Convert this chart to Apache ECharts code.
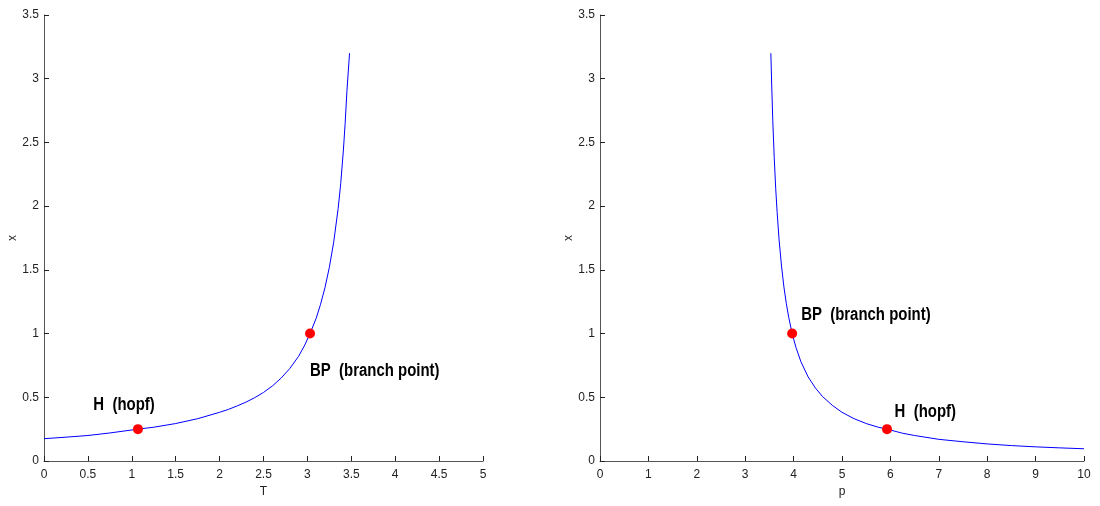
<!DOCTYPE html>
<html>
<head>
<meta charset="utf-8">
<script src="https://cdn.jsdelivr.net/npm/echarts@6/dist/echarts.min.js"></script>
<style>
  html, body { margin: 0; padding: 0; background: #fff; }
  #chart { width: 1100px; height: 506px; }
</style>
</head>
<body>
<div id="chart"></div>
<script>
// Equilibrium branch x versus T (left) and versus p (right)
const tTicks = [0, 0.5, 1, 1.5, 2, 2.5, 3, 3.5, 4, 4.5, 5];
const pTicks = [0, 1, 2, 3, 4, 5, 6, 7, 8, 9, 10];
const xTicks = [0, 0.5, 1, 1.5, 2, 2.5, 3, 3.5];

// branch traced over T
const branchT = [
  [0, 0.175], [0.25, 0.187], [0.5, 0.2], [0.75, 0.22], [1.07, 0.25],
  [1.25, 0.265], [1.5, 0.294], [1.75, 0.332], [2.0, 0.382], [2.1, 0.405],
  [2.2, 0.432], [2.3, 0.462], [2.4, 0.497], [2.5, 0.538], [2.6, 0.588],
  [2.7, 0.65], [2.8, 0.726], [2.9, 0.822], [2.97, 0.91], [3.03, 1.0],
  [3.1, 1.12], [3.15, 1.23], [3.2, 1.36], [3.25, 1.52], [3.3, 1.72],
  [3.35, 1.98], [3.38, 2.18], [3.41, 2.44], [3.43, 2.65], [3.45, 2.9],
  [3.48, 3.2]
];
// branch traced over p
const branchP = [
  [3.53, 3.2], [3.55, 2.92], [3.57, 2.67], [3.6, 2.38], [3.63, 2.14],
  [3.66, 1.95], [3.7, 1.735], [3.75, 1.53], [3.8, 1.366], [3.85, 1.235],
  [3.9, 1.126], [3.97, 1.0], [4.05, 0.89], [4.15, 0.78], [4.3, 0.66],
  [4.45, 0.573], [4.6, 0.505], [4.8, 0.437], [5.0, 0.382], [5.25, 0.332],
  [5.5, 0.294], [5.75, 0.265], [5.93, 0.25], [6.25, 0.218], [6.5, 0.2],
  [7.0, 0.17], [7.5, 0.151], [8.0, 0.134], [8.5, 0.121], [9.0, 0.111],
  [9.5, 0.103], [10.0, 0.096]
];

// special points: Hopf and branch point on each branch
const pointNames = ['H  (hopf)', 'BP  (branch point)'];
const pointsT = [[1.07, 0.25], [3.03, 1.0]];
const pointsP = [[5.93, 0.25], [3.97, 1.0]];

const labelFont = "'Liberation Sans', Arial, sans-serif";
const tickFont = { fontFamily: labelFont, fontSize: 12, color: '#222' };

function xAxisCfg(gridIndex, ticks, name) {
  return {
    type: 'value', gridIndex, name,
    nameLocation: 'middle', nameGap: 24,
    nameTextStyle: { fontFamily: labelFont, fontSize: 12, color: '#222' },
    min: ticks[0], max: ticks[ticks.length - 1], interval: ticks[1] - ticks[0],
    axisLine: { show: true, onZero: false, lineStyle: { color: '#555', width: 1 } },
    axisTick: { show: true, inside: true, length: 5, lineStyle: { color: '#222' } },
    axisLabel: Object.assign({ margin: 8 }, tickFont),
    splitLine: { show: false }
  };
}
function yAxisCfg(gridIndex, ticks, name) {
  return {
    type: 'value', gridIndex, name,
    nameLocation: 'middle', nameGap: 21, nameRotate: 90,
    nameTextStyle: { fontFamily: labelFont, fontSize: 12, color: '#222' },
    min: ticks[0], max: ticks[ticks.length - 1], interval: ticks[1] - ticks[0],
    axisLine: { show: true, onZero: false, lineStyle: { color: '#555', width: 1 } },
    axisTick: { show: true, inside: true, length: 5, lineStyle: { color: '#222' } },
    axisLabel: Object.assign({ margin: 5 }, tickFont),
    splitLine: { show: false }
  };
}

// marker + condensed bold caption, placed through the axis scales
function pointSeries(idx, pts, offsets) {
  return {
    type: 'custom', xAxisIndex: idx, yAxisIndex: idx, z: 5,
    data: pts,
    renderItem(params, api) {
      const c = api.coord([api.value(0), api.value(1)]);
      const off = offsets[params.dataIndex];
      return {
        type: 'group',
        children: [
          { type: 'circle', shape: { cx: c[0], cy: c[1], r: 5 },
            style: { fill: '#ff0000' } },
          { type: 'text', x: c[0] + off[0], y: c[1] + off[1], scaleX: 0.83,
            style: {
              text: pointNames[params.dataIndex], fill: '#000',
              font: "bold 18px 'Liberation Sans', Arial, sans-serif",
              align: 'left', verticalAlign: 'middle'
            } }
        ]
      };
    }
  };
}

const chart = echarts.init(document.getElementById('chart'), null, { renderer: 'canvas' });
chart.setOption({
  animation: false,
  backgroundColor: '#fff',
  grid: [
    { left: 44, top: 15, width: 439, bottom: 45 },
    { left: 600, top: 15, width: 484, bottom: 45 }
  ],
  xAxis: [xAxisCfg(0, tTicks, 'T'), xAxisCfg(1, pTicks, 'p')],
  yAxis: [yAxisCfg(0, xTicks, 'x'), yAxisCfg(1, xTicks, 'x')],
  series: [
    {
      type: 'line', xAxisIndex: 0, yAxisIndex: 0, data: branchT,
      showSymbol: false, smooth: false,
      lineStyle: { color: '#0000ff', width: 1 }
    },
    {
      type: 'line', xAxisIndex: 1, yAxisIndex: 1, data: branchP,
      showSymbol: false, smooth: false,
      lineStyle: { color: '#0000ff', width: 1 }
    },
    pointSeries(0, pointsT, [[-44.6, -24.2], [0, 37.7]]),
    pointSeries(1, pointsP, [[7.6, -17.6], [9, -19]])
  ]
});
</script>
</body>
</html>
